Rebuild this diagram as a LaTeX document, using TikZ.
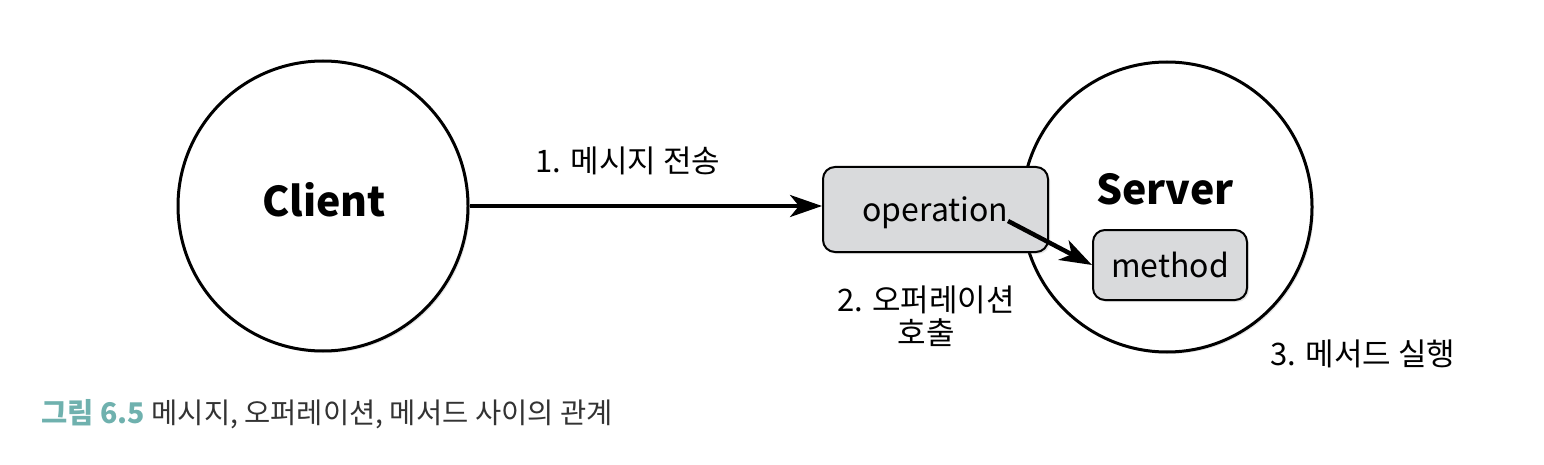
\documentclass[tikz,border=0pt]{standalone}
\usepackage{fontspec}
\setmainfont{Noto Sans CJK KR}
\usetikzlibrary{arrows.meta,shadows}
\definecolor{boxgray}{HTML}{D9DADC}
\definecolor{capteal}{HTML}{6FB1AE}
\definecolor{capgray}{HTML}{333333}

\begin{document}
\begin{tikzpicture}[x=1pt,y=-1pt,>={Stealth[length=32pt,width=22pt,inset=9pt]},
        party/.style={circle,draw,line width=3pt,fill=white,minimum size=290pt,inner sep=0pt,
            drop shadow={shadow xshift=2pt,shadow yshift=-2pt,opacity=0.2}},
        box/.style={rectangle,rounded corners=12pt,draw,line width=2pt,fill=boxgray,inner sep=0pt,
            text depth=0pt,font=\fontsize{32pt}{36pt}\selectfont,
            drop shadow={shadow xshift=2pt,shadow yshift=-2pt,opacity=0.2}},
        bigname/.style={font=\fontsize{41pt}{45pt}\selectfont\bfseries},
        msg/.style={font=\fontsize{31pt}{33pt}\selectfont,align=center}]
        \useasboundingbox (0,0) rectangle (1544,465);
        % nodes
        \node[party] (client) at (323,206) {};
        \node[bigname] (clientname) at (324,200) {Client};
        \node[party] (server) at (1167,207) {};
        \node[bigname] (servername) at (1165,189) {Server};
        \node[box,minimum width=225pt,minimum height=85pt] (op) at (935.5,209.5) {operation};
        \node[box,minimum width=154pt,minimum height=70pt] (meth) at (1170,265) {method};
        \coordinate (opend) at (1008,221);
        % labels
        \node[msg] (send) at (628,161) {1. 메시지 전송};
        \node[msg] (call) at (926,316) {2. 오퍼레이션\\호출};
        \node[msg] (run) at (1363,354) {3. 메서드 실행};
        \node[anchor=west,font=\fontsize{28.5pt}{30pt}\selectfont] (caption) at (38,414)
            {\textcolor{capteal}{\bfseries 그림 6.5} \textcolor{capgray}{메시지, 오퍼레이션, 메서드 사이의 관계}};
        % edges
        \draw[->,line width=4pt] (client.east) -- (client.east -| op.west);
        \draw[->,line width=4.5pt] (opend) -- (meth.west);
\end{tikzpicture}
\end{document}
